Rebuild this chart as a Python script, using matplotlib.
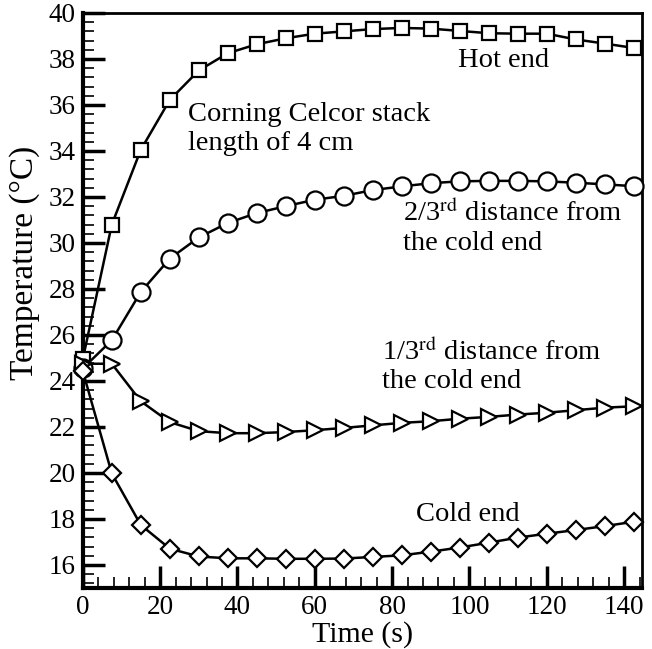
import matplotlib
matplotlib.use('Agg')
import matplotlib.pyplot as plt
from matplotlib.ticker import MultipleLocator
import numpy as np

# Time samples (s)
time = np.arange(20) * 7.5

# Temperatures (deg C)
hot_end = [24.95, 30.8, 34.05, 36.22, 37.5, 38.25, 38.64, 38.9, 39.1, 39.2,
           39.3, 39.35, 39.32, 39.22, 39.12, 39.1, 39.1, 38.85, 38.67, 38.48]
two_thirds = [24.55, 25.77, 27.87, 29.32, 30.24, 30.87, 31.3, 31.6, 31.88, 32.05,
              32.3, 32.46, 32.6, 32.68, 32.7, 32.7, 32.68, 32.62, 32.55, 32.47]
one_third = [24.75, 24.75, 23.12, 22.21, 21.82, 21.73, 21.73, 21.78, 21.86, 21.96,
             22.07, 22.18, 22.25, 22.36, 22.44, 22.54, 22.62, 22.73, 22.84, 22.9]
cold_end = [24.43, 19.98, 17.74, 16.71, 16.37, 16.29, 16.29, 16.27, 16.27, 16.28,
            16.35, 16.42, 16.58, 16.76, 16.97, 17.19, 17.36, 17.52, 17.69, 17.88]

plt.rcParams['font.family'] = ['Liberation Serif', 'DejaVu Serif']
plt.rcParams['mathtext.fontset'] = 'stix'

fig = plt.figure(figsize=(6.52, 6.49), dpi=100)
ax = fig.add_axes([0.127, 0.094, 0.858, 0.886])

line_kw = dict(color='black', lw=1.8, mfc='white', mec='black', mew=1.6, clip_on=False, zorder=3)
ax.plot(time, hot_end, marker='s', ms=9.5, **line_kw)
ax.plot(time, two_thirds, marker='o', ms=13, **line_kw)
ax.plot(time, one_third, marker='>', ms=12, **line_kw)
ax.plot(time, cold_end, marker='D', ms=9, **line_kw)

ax.set_xlim(0, 144.7)
ax.set_ylim(15, 40)
ax.xaxis.set_major_locator(MultipleLocator(20))
ax.xaxis.set_minor_locator(MultipleLocator(4))
ax.yaxis.set_major_locator(MultipleLocator(2))
ax.yaxis.set_minor_locator(MultipleLocator(0.4))
ax.tick_params(which='major', direction='in', length=16, width=2.5, labelsize=19.5, pad=5)
ax.tick_params(which='minor', direction='in', length=8, width=1.2)
ax.tick_params(top=False, right=False)
for side in ['left', 'bottom']:
    ax.spines[side].set_linewidth(3)
for side in ['top', 'right']:
    ax.spines[side].set_linewidth(2)

ax.set_xlabel('Time (s)', fontsize=21.5, labelpad=1)
ax.set_ylabel('Temperature (°C)', fontsize=24)
ax.yaxis.set_label_coords(-0.076, 0.565)

fs = 20.5
ax.text(27.2, 35.32, 'Corning Celcor stack', fontsize=fs, va='baseline')
ax.text(27.2, 34.05, 'length of 4 cm', fontsize=fs, va='baseline')
ax.text(97, 37.66, 'Hot end', fontsize=fs, va='baseline')
ax.text(82.8, 30.94, '2/3$^{\\rm rd}$ distance from', fontsize=fs, va='baseline')
ax.text(82.8, 29.71, 'the cold end', fontsize=fs, va='baseline')
ax.text(77.4, 24.93, '1/3$^{\\rm rd}$ distance from', fontsize=fs, va='baseline')
ax.text(77.4, 23.70, 'the cold end', fontsize=fs, va='baseline')
ax.text(86.2, 17.91, 'Cold end', fontsize=fs, va='baseline')

fig.savefig('out.png', dpi=100)
plt.close(fig)
